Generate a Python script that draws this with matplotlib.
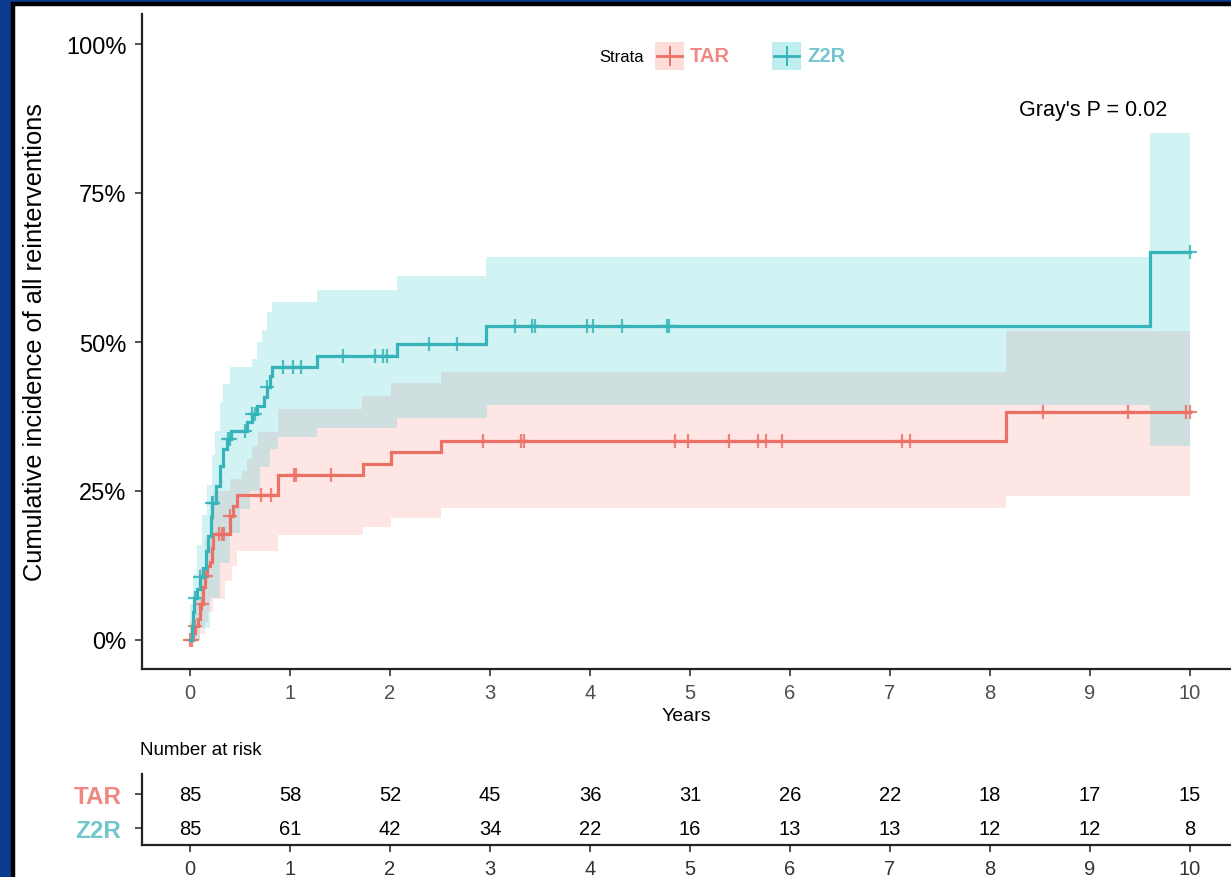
import numpy as np
import matplotlib
matplotlib.use("Agg")
import matplotlib.pyplot as plt
from matplotlib.patches import Rectangle

plt.rcParams["font.family"] = ["Liberation Sans", "DejaVu Sans"]

# cumulative incidence steps (years, proportion)
tar_t = [0.0, 0.03, 0.05, 0.08, 0.10, 0.13, 0.15, 0.17, 0.20, 0.22, 0.23, 0.40, 0.43, 0.47,
         0.88, 1.73, 2.01, 2.51, 8.16]
tar_v = [0.0, 0.012, 0.024, 0.036, 0.060, 0.089, 0.107, 0.124, 0.131, 0.155, 0.178, 0.208,
         0.225, 0.243, 0.277, 0.295, 0.316, 0.334, 0.382]
tar_cens = [0.0, 0.02, 0.05, 0.12, 0.16, 0.29, 0.32, 0.34, 0.40, 0.71, 0.81, 1.04, 1.06, 1.41,
            2.93, 3.31, 3.34, 4.85, 4.98, 5.39, 5.68, 5.76, 5.92, 7.12, 7.20, 8.53, 9.38,
            9.96, 10.0]

z2r_t = [0.0, 0.02, 0.03, 0.04, 0.07, 0.10, 0.13, 0.16, 0.18, 0.21, 0.22, 0.26, 0.30, 0.33,
         0.37, 0.41, 0.57, 0.62, 0.67, 0.74, 0.77, 0.80, 0.82, 1.27, 2.07, 2.96, 9.60]
z2r_v = [0.0, 0.024, 0.047, 0.070, 0.085, 0.105, 0.120, 0.150, 0.175, 0.206, 0.230, 0.259,
         0.292, 0.320, 0.337, 0.350, 0.366, 0.380, 0.393, 0.408, 0.425, 0.443, 0.458, 0.476,
         0.497, 0.527, 0.651]
z2r_cens = [0.05, 0.10, 0.22, 0.23, 0.38, 0.40, 0.55, 0.62, 0.65, 0.77, 0.93, 1.03, 1.11,
            1.53, 1.85, 1.93, 1.97, 2.39, 2.67, 3.25, 3.42, 3.45, 3.97, 4.03, 4.32, 4.77,
            4.79, 10.0]

# 95% confidence bands (step functions)
tar_lo_t = [0.0, 0.10, 0.15, 0.18, 0.23, 0.35, 0.42, 0.47, 0.88, 1.73, 2.01, 2.51, 8.16]
tar_lo_v = [0.0, 0.010, 0.030, 0.047, 0.069, 0.099, 0.124, 0.149, 0.176, 0.190, 0.205,
            0.221, 0.242]
tar_hi_t = [0.0, 0.05, 0.10, 0.15, 0.20, 0.23, 0.40, 0.52, 0.57, 0.62, 0.68, 0.88, 1.72,
            2.01, 2.51, 8.16]
tar_hi_v = [0.03, 0.07, 0.12, 0.17, 0.21, 0.25, 0.27, 0.284, 0.304, 0.326, 0.349, 0.388,
            0.410, 0.431, 0.450, 0.518]

z2r_lo_t = [0.0, 0.10, 0.20, 0.30, 0.40, 0.50, 0.60, 0.70, 0.80, 0.88, 1.27, 2.07, 2.97, 9.60]
z2r_lo_v = [0.0, 0.020, 0.070, 0.130, 0.180, 0.220, 0.250, 0.290, 0.320, 0.340, 0.356,
            0.372, 0.394, 0.325]
z2r_hi_t = [0.0, 0.03, 0.07, 0.12, 0.17, 0.22, 0.25, 0.30, 0.33, 0.40, 0.62, 0.67, 0.72,
            0.77, 0.82, 1.27, 2.07, 2.96, 9.60]
z2r_hi_v = [0.06, 0.11, 0.16, 0.21, 0.26, 0.31, 0.35, 0.40, 0.43, 0.458, 0.471, 0.50, 0.52,
            0.55, 0.567, 0.587, 0.611, 0.642, 0.851]

t_end = 10.0

# number at risk table
risk_times = list(range(0, 11))
tar_risk = [85, 58, 52, 45, 36, 31, 26, 22, 18, 17, 15]
z2r_risk = [85, 61, 42, 34, 22, 16, 13, 13, 12, 12, 8]

groups = ["TAR", "Z2R"]
line_cols = {"TAR": "#EC7066", "Z2R": "#36B4BA"}
fill_cols = {"TAR": "#F8766D", "Z2R": "#00BFC4"}
text_cols = {"TAR": "#F08882", "Z2R": "#74C6CE"}

W, H = 1231, 878
fig = plt.figure(figsize=(W / 100, H / 100), dpi=100, facecolor="#0C3A8E")

# white panel with dark frame
fig.patches.append(Rectangle((12.5 / W, -0.05), 1.1, 1 - 4.5 / H + 0.05, transform=fig.transFigure,
                             facecolor="white", edgecolor="black", linewidth=3.2, zorder=-5))


def step_ext(t, v):
    return np.append(t, t_end), np.append(v, v[-1])


def value_at(t, v, x):
    idx = np.searchsorted(t, x, side="right") - 1
    return np.asarray(v)[idx]


ax = fig.add_axes([142 / W, 1 - 670 / H, (W - 142) / W, (670 - 15) / H])
ax.set_xlim(-0.48, (W - 190) / 100)
ax.set_ylim(-29 / 596, 1 + 30 / 596)
ax.set_facecolor("none")

bands = {
    "TAR": (tar_lo_t, tar_lo_v, tar_hi_t, tar_hi_v),
    "Z2R": (z2r_lo_t, z2r_lo_v, z2r_hi_t, z2r_hi_v),
}
curves = {"TAR": (tar_t, tar_v, tar_cens), "Z2R": (z2r_t, z2r_v, z2r_cens)}

for g in groups:
    lo_t, lo_v, hi_t, hi_v = bands[g]
    grid = np.unique(np.concatenate([lo_t, hi_t, [t_end]]))
    lo = value_at(lo_t, lo_v, grid)
    hi = value_at(hi_t, hi_v, grid)
    ax.fill_between(grid, lo, hi, step="post", color=fill_cols[g], alpha=0.18, linewidth=0)

for g in groups:
    t, v, cens = curves[g]
    tx, vx = step_ext(t, v)
    ax.step(tx, vx, where="post", color=line_cols[g], lw=2.3, solid_joinstyle="miter")
    ax.plot(cens, value_at(t, v, cens), ls="none", marker="+", ms=10, mew=1.6,
            color=line_cols[g], alpha=0.85)

ax.set_yticks([0, 0.25, 0.5, 0.75, 1.0])
ax.set_yticklabels(["0%", "25%", "50%", "75%", "100%"], fontsize=17, color="black")
ax.set_xticks(range(0, 11))
ax.tick_params(axis="x", labelsize=14.5, labelcolor="#4D4D4D", length=5, width=1.2, color="#333333", pad=5)
ax.tick_params(axis="y", length=5, width=1.2, color="#333333", pad=6)
ax.set_xlabel("Years", fontsize=14, labelpad=4)
ax.set_ylabel("Cumulative incidence of all reinterventions", fontsize=18.3, labelpad=14)
for s in ["top", "right"]:
    ax.spines[s].set_visible(False)
for s in ["left", "bottom"]:
    ax.spines[s].set_linewidth(1.6)
    ax.spines[s].set_color("#222222")

ax.text(9.77, 0.89, "Gray's P = 0.02", fontsize=15.5, ha="right", va="center")

# legend row
fig.text(599 / W, 1 - 57 / H, "Strata", fontsize=12, ha="left", va="center")
for g, x0 in zip(groups, [655, 772]):
    fig.patches.append(Rectangle((x0 / W, 1 - 71 / H), 29 / W, 28 / H, transform=fig.transFigure,
                                 facecolor=fill_cols[g], alpha=0.25, linewidth=0))
    fig.add_artist(plt.Line2D([(x0 + 2) / W, (x0 + 27) / W], [1 - 57 / H] * 2, color=line_cols[g], lw=2))
    fig.add_artist(plt.Line2D([(x0 + 14.5) / W] * 2, [1 - 66 / H, 1 - 48 / H], color=line_cols[g], lw=1.4))
    fig.text((x0 + 35) / W, 1 - 57 / H, g, fontsize=14.5, fontweight="bold", color=text_cols[g],
             ha="left", va="center")

# risk table
fig.text(140 / W, 1 - 751 / H, "Number at risk", fontsize=13.5, ha="left", va="center")
tab = fig.add_axes([142 / W, 1 - 846 / H, (W - 142) / W, 71 / H])
tab.set_xlim(ax.get_xlim())
tab.set_ylim(0.5, 2.6)
for row, counts in zip([2, 1], [tar_risk, z2r_risk]):
    for x, n in zip(risk_times, counts):
        tab.text(x, row, str(n), fontsize=14.5, ha="center", va="center")
tab.set_yticks([2, 1])
tab.set_yticklabels(groups, fontsize=17.5, fontweight="bold")
for lab, g in zip(tab.get_yticklabels(), groups):
    lab.set_color(text_cols[g])
tab.set_xticks(risk_times)
tab.tick_params(axis="x", labelsize=14.5, labelcolor="#333333", length=5, width=1.2, color="#333333", pad=5)
tab.tick_params(axis="y", length=5, width=1.2, color="#333333", pad=10)
for s in ["top", "right"]:
    tab.spines[s].set_visible(False)
for s in ["left", "bottom"]:
    tab.spines[s].set_linewidth(1.6)
    tab.spines[s].set_color("#222222")
tab.set_facecolor("none")

fig.savefig("out.png", dpi=100, facecolor=fig.get_facecolor())
